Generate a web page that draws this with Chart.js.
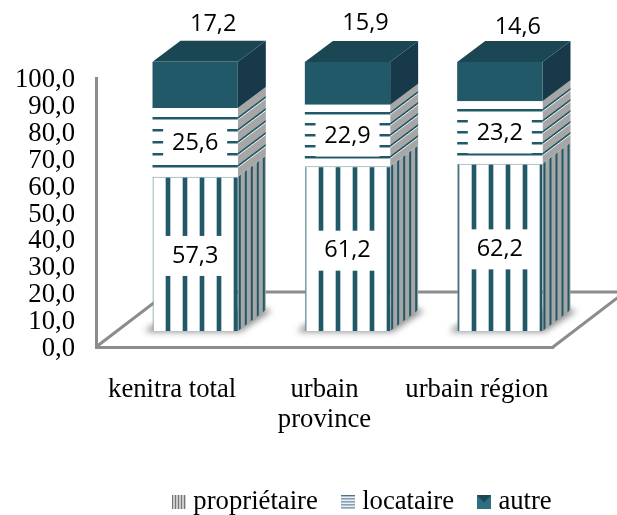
<!DOCTYPE html>
<html><head><meta charset="utf-8">
<style>html,body{margin:0;padding:0;background:#fff}canvas{display:block}</style>
<script src="https://cdn.jsdelivr.net/npm/chart.js@4"></script></head>
<body><div style="width:617px;height:515px"><canvas id="c" width="617" height="515"></canvas></div>
<script>
const categories = ["kenitra total", ["urbain", "province"], "urbain région"];
const seriesNames = ["propriétaire", "locataire", "autre"];
const proprietaire = [57.3, 61.2, 62.2];
const locataire = [25.6, 22.9, 23.2];
const autre = [17.2, 15.9, 14.6];
const tickValues = [0,10,20,30,40,50,60,70,80,90,100];

const TEAL = '#215968', TOP = '#1b4654', SIDE = '#17394a', GREY = '#a6a6a6', AXIS = '#8c8c8c';
const SHIFT = {x: 23, y: -16}, DEPTH = {x: 28, y: -21};

function tile(w, h, draw) {
  const c = document.createElement('canvas'); c.width = w; c.height = h;
  draw(c.getContext('2d')); return c;
}
function pat(w, h, draw) { return document.getElementById('c').getContext('2d').createPattern(tile(w, h, draw), 'repeat'); }
const vFront = pat(17, 1, g => { g.fillStyle = '#fff'; g.fillRect(0,0,17,1); g.fillStyle = TEAL; g.fillRect(7,0,4,1); g.fillStyle = '#b5c9cf'; g.fillRect(6,0,1,1); g.fillRect(11,0,1,1); });
const hFronts = [[12,1],[11,7],[11,4]].map(([p,o]) => pat(1, p, g => { g.fillStyle = '#fff'; g.fillRect(0,0,1,p); g.fillStyle = TEAL; g.fillRect(0,o,1,2); g.fillStyle = '#8fadb5'; g.fillRect(0,(o+2)%p,1,1); }));
const vSide = pat(6, 1, g => { g.fillStyle = GREY; g.fillRect(0,0,6,1); g.fillStyle = TEAL; g.fillRect(1,0,2,1); });
const hSides = [[12,1],[11,7],[11,4]].map(([p,o]) => pat(1, p, g => { g.fillStyle = GREY; g.fillRect(0,0,1,p); g.fillStyle = TEAL; g.fillRect(0,o,1,2); g.fillStyle = '#f0f0f0'; g.fillRect(0,(o+2)%p,1,1); }));

const swatchV = tile(14, 14, g => { g.fillStyle = '#ccc'; g.fillRect(0,0,14,14); g.fillStyle = '#777'; for (let i = 0; i < 14; i += 3) g.fillRect(i,0,1,14); });
const swatchH = tile(14, 14, g => { g.fillStyle = '#eef'; g.fillRect(0,0,14,14); g.fillStyle = '#4d7480'; for (let i = 0; i < 14; i += 3) g.fillRect(0,i,14,1); });
const swatchA = tile(14, 14, g => { g.fillStyle = '#2f6e80'; g.fillRect(0,0,14,14); g.fillStyle = TOP; g.beginPath(); g.moveTo(0,0); g.lineTo(14,0); g.lineTo(7,7); g.fill(); });
const swatches = [swatchV, swatchH, swatchA];

const sideFill = (s, i) => s === 0 ? vSide : s === 1 ? hSides[i] : SIDE;

const scene = {
  id: 'scene',
  afterLayout(chart) {
    const l = chart.legend;
    l.left = 149; l.right = 617; l.top = 460; l.bottom = 515;
  },
  beforeDatasetsDraw(chart) {
    const {ctx, chartArea: a} = chart;
    const y0 = a.bottom, x0 = a.left, x1 = a.right;
    ctx.save();
    ctx.strokeStyle = AXIS; ctx.lineWidth = 3;
    ctx.beginPath();
    ctx.moveTo(x0, y0); ctx.lineTo(x0 + 72, y0 - 55); ctx.lineTo(617, y0 - 55);
    ctx.moveTo(x1, y0); ctx.lineTo(x1 + 72, y0 - 55);
    ctx.stroke();
    ctx.restore();

    const metas = [0,1,2].map(i => chart.getDatasetMeta(i));
    ctx.save();
    ctx.translate(SHIFT.x, SHIFT.y);
    metas[0].data.forEach(b => {
      const L = b.x - b.width/2, R = b.x + b.width/2, B = b.base;
      ctx.save();
      ctx.filter = 'blur(3px)';
      ctx.fillStyle = 'rgba(70,70,70,.6)';
      ctx.beginPath();
      ctx.moveTo(L - 8, B + 1); ctx.lineTo(R + 2, B + 1);
      ctx.lineTo(R + DEPTH.x + 6, B + DEPTH.y + 1); ctx.lineTo(R + DEPTH.x - 10, B + DEPTH.y - 4);
      ctx.lineTo(L, B - 6);
      ctx.closePath(); ctx.fill();
      ctx.restore();
    });
    metas.forEach((m, s) => m.data.forEach((b, i) => {
      const R = b.x + b.width/2, L = b.x - b.width/2, top = b.y, bot = b.base;
      ctx.save();
      ctx.translate(R, 0);
      ctx.transform(1, DEPTH.y / DEPTH.x, 0, 1, 0, 0);
      ctx.fillStyle = sideFill(s, i);
      ctx.fillRect(0, top, DEPTH.x, bot - top);
      ctx.restore();
      if (s === 2) {
        ctx.fillStyle = TOP;
        ctx.beginPath();
        ctx.moveTo(L, top); ctx.lineTo(R, top);
        ctx.lineTo(R + DEPTH.x, top + DEPTH.y); ctx.lineTo(L + DEPTH.x, top + DEPTH.y);
        ctx.closePath(); ctx.fill();
      }
    }));
    ctx.restore();
    ctx.save();
    ctx.translate(SHIFT.x, SHIFT.y);
  },
  afterDatasetsDraw(chart) {
    const {ctx} = chart;
    ctx.restore();
    ctx.save();
    ctx.translate(SHIFT.x, SHIFT.y);
    ctx.font = '23.5px "Open Sans"';
    ctx.textAlign = 'center'; ctx.textBaseline = 'middle';
    const fmt = v => v.toFixed(1).replace('.', ',');
    [0,1].forEach(s => {
      const m = chart.getDatasetMeta(s), d = chart.data.datasets[s].data;
      m.data.forEach((b, i) => {
        const cy = (b.y + b.base) / 2 + (s === 0 ? 2 : 1);
        ctx.fillStyle = '#fff';
        ctx.fillRect(b.x - 32, cy - 20, 64, 40);
        ctx.fillStyle = '#000';
        ctx.fillText(fmt(d[i]), b.x, cy);
      });
    });
    const topNudge = [2, 0, 4];
    const m = chart.getDatasetMeta(2), d = chart.data.datasets[2].data;
    m.data.forEach((b, i) => {
      ctx.fillStyle = '#000';
      ctx.fillText(fmt(d[i]), b.x + 18, b.y + DEPTH.y - 18 + topNudge[i]);
    });
    ctx.restore();
  }
};

new Chart(document.getElementById('c'), {
  type: 'bar',
  data: {
    labels: categories,
    datasets: [
      {label: seriesNames[0], data: proprietaire, backgroundColor: vFront, borderColor: '#7f9fa8', borderWidth: {left: 1, top: 1}, pointStyle: swatches[0]},
      {label: seriesNames[1], data: locataire, backgroundColor: hFronts, pointStyle: swatches[1]},
      {label: seriesNames[2], data: autre, backgroundColor: TEAL, pointStyle: swatches[2]}
    ]
  },
  plugins: [scene],
  options: {
    responsive: false,
    animation: false,
    barPercentage: 0.56,
    categoryPercentage: 1,
    layout: {padding: {left: 0, right: 64, top: 78, bottom: 0}},
    plugins: {
      tooltip: {enabled: false},
      legend: {
        position: 'bottom', align: 'start',
        labels: {
          usePointStyle: true, pointStyleWidth: 2, boxHeight: 14, padding: 29,
          color: '#000', font: {family: '"Liberation Serif"', size: 26.7},
          generateLabels: ch => ch.data.datasets.map((ds, i) => ({text: ds.label, pointStyle: ds.pointStyle, datasetIndex: i, lineWidth: 0}))
        }
      }
    },
    scales: {
      x: {
        stacked: true,
        grid: {display: false, drawTicks: false},
        border: {color: AXIS, width: 3},
        ticks: {color: '#000', padding: 28, maxRotation: 0, autoSkip: false, font: {family: '"Liberation Serif"', size: 26.7, lineHeight: 1.12}},
        afterFit(s) { s.height = 515 - 347 - (s.chart.legend ? s.chart.legend.height : 0); }
      },
      y: {
        stacked: true, min: 0, max: 100,
        afterBuildTicks(s) { s.ticks = tickValues.map(v => ({value: v})); },
        grid: {display: false, drawTicks: false},
        border: {color: AXIS, width: 3},
        ticks: {color: '#000', padding: 21, labelOffset: 2, autoSkip: false, callback: v => v.toFixed(1).replace('.', ','), font: {family: '"Liberation Serif"', size: 26.7}},
        afterFit(s) { s.width = 96; }
      }
    }
  }
});
</script></body></html>
